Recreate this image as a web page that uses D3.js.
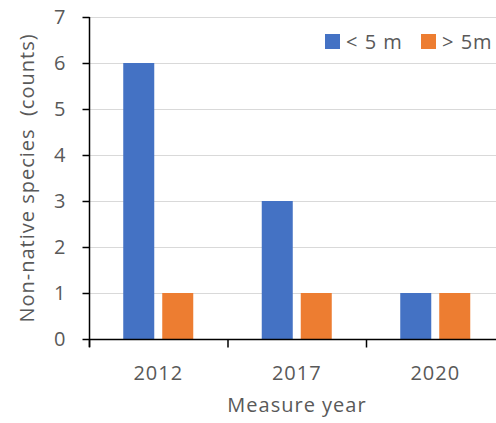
<!DOCTYPE html>
<html>
<head>
<meta charset="utf-8">
<script src="https://cdn.jsdelivr.net/npm/d3@7"></script>
<style>
  html, body { margin: 0; padding: 0; background: #fff; }
  svg { display: block; }
  text { font-family: "Open Sans", sans-serif; fill: #595959; }
</style>
</head>
<body>
<div id="chart"></div>
<script>
const categories = ["2012", "2017", "2020"];
const seriesNames = ["< 5 m", "> 5m"];
const seriesBelow5 = [6, 3, 1];
const seriesAbove5 = [1, 1, 1];
const yTicks = [0, 1, 2, 3, 4, 5, 6, 7];
const colors = ["#4472C4", "#ED7D31"];

const W = 496, H = 423;
const plot = { left: 89, top: 17, bottom: 339, step: 138.5 };

const svg = d3.select("#chart").append("svg").attr("width", W).attr("height", H);

const x0 = d3.scaleBand().domain(categories)
  .range([plot.left, plot.left + plot.step * categories.length])
  .paddingInner(0).paddingOuter(0);
const x1 = d3.scaleBand().domain(seriesNames)
  .range([0, x0.bandwidth()]).paddingInner(0.205).paddingOuter(0.878);
const y = d3.scaleLinear().domain([0, 7]).range([plot.bottom, plot.top]);

// gridlines
svg.append("g").selectAll("line").data(yTicks.filter(d => d > 0)).join("line")
  .attr("x1", plot.left).attr("x2", W)
  .attr("y1", d => y(d) + 0.5).attr("y2", d => y(d) + 0.5)
  .attr("stroke", "#d9d9d9").attr("stroke-width", 1);

const rows = categories.map((c, i) => ({ cat: c, vals: [seriesBelow5[i], seriesAbove5[i]] }));

svg.append("g").selectAll("g").data(rows).join("g")
  .attr("transform", d => `translate(${x0(d.cat)},0)`)
  .selectAll("rect").data(d => d.vals.map((v, j) => ({ s: seriesNames[j], v, j })))
  .join("rect")
  .attr("x", d => x1(d.s)).attr("width", x1.bandwidth())
  .attr("y", d => y(d.v)).attr("height", d => y(0) - y(d.v))
  .attr("fill", d => colors[d.j]);

// y axis
const yAxis = svg.append("g").attr("transform", `translate(${plot.left + 0.5},0)`)
  .call(d3.axisLeft(y).tickValues(yTicks).tickFormat(d3.format("d")).tickSize(7).tickPadding(16).tickSizeOuter(0));
yAxis.select(".domain").remove();
yAxis.append("line").attr("x1", 0).attr("x2", 0).attr("y1", y(7)).attr("y2", plot.bottom + 8)
  .attr("stroke", "#000").attr("stroke-width", 1.5);
yAxis.selectAll(".tick line").attr("stroke", "#000").attr("stroke-width", 1.5);
yAxis.selectAll(".tick text").attr("font-size", 20).attr("dy", "0.34em").style("letter-spacing", "1px");

// x axis
const xAxis = svg.append("g").attr("transform", `translate(0,${plot.bottom + 0.5})`);
xAxis.append("line").attr("x1", plot.left).attr("x2", W).attr("y1", 0).attr("y2", 0)
  .attr("stroke", "#000").attr("stroke-width", 1.5);
const boundaries = categories.map(c => x0(c)).concat([x0(categories[categories.length - 1]) + x0.bandwidth()]);
xAxis.selectAll("line.tk").data(boundaries).join("line").attr("class", "tk")
  .attr("x1", d => d + 0.5).attr("x2", d => d + 0.5).attr("y1", 0).attr("y2", 8)
  .attr("stroke", "#000").attr("stroke-width", 1.5);
xAxis.selectAll("text").data(categories).join("text")
  .attr("x", d => x0(d) + x0.bandwidth() / 2).attr("y", 40)
  .attr("text-anchor", "middle").attr("font-size", 20).style("letter-spacing", "1px")
  .text(d => d);

// axis titles
svg.append("text").attr("x", 297).attr("y", 412).attr("text-anchor", "middle")
  .attr("font-size", 20).style("letter-spacing", "1px").text("Measure year");
svg.append("text").attr("transform", "translate(34,178) rotate(-90)")
  .attr("text-anchor", "middle").attr("font-size", 20).style("letter-spacing", "1px")
  .style("white-space", "pre").attr("xml:space", "preserve")
  .text("Non-native species  (counts)");

// legend
const legendX = [325, 421];
const lg = svg.append("g").selectAll("g").data(seriesNames).join("g")
  .attr("transform", (d, i) => `translate(${legendX[i]},34)`);
lg.append("rect").attr("width", 15).attr("height", 15).attr("fill", (d, i) => colors[i]);
lg.append("text").attr("x", 21).attr("y", 14.5).attr("font-size", 20)
  .style("letter-spacing", "1px").style("white-space", "pre").text(d => d);
</script>
</body>
</html>
